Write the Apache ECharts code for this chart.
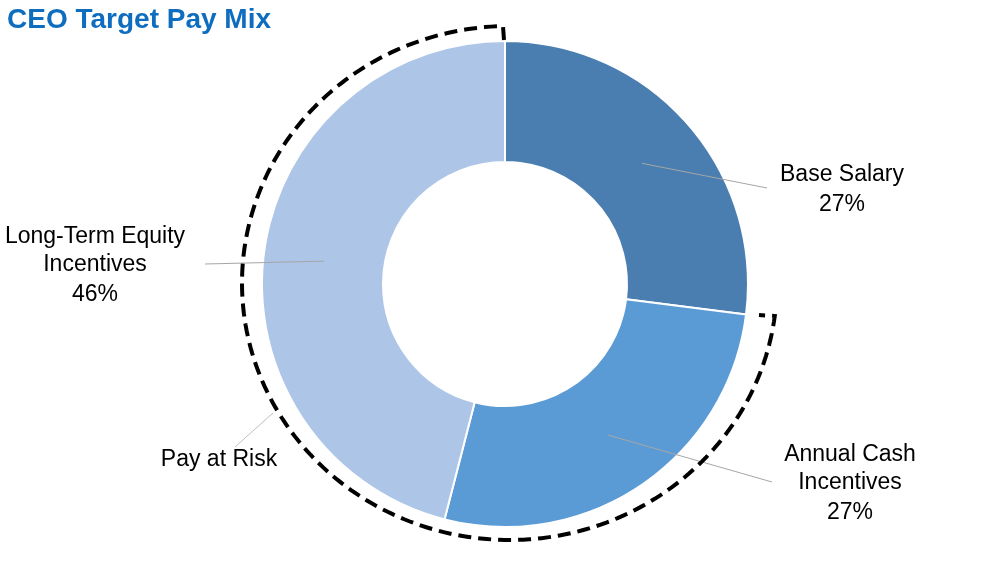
<!DOCTYPE html>
<html>
<head>
<meta charset="utf-8">
<script src="https://cdn.jsdelivr.net/npm/echarts@6/dist/echarts.min.js"></script>
<style>
html,body{margin:0;padding:0;background:#fff;}
#chart{width:999px;height:586px;}
</style>
</head>
<body>
<div id="chart"></div>
<script>
// ---- data ----
const titleText = 'CEO Target Pay Mix';
const categories = ['Base Salary', 'Annual Cash\nIncentives', 'Long-Term Equity\nIncentives'];
const values = [27, 27, 46];
const groupLabel = 'Pay at Risk';

// ---- styles / layout ----
const colors = ['#4a7eb0', '#5b9bd5', '#adc5e6'];
const CX = 505, CY = 284, R_IN = 122, R_OUT = 243;
const labelPos = [[842, 191], [850, 485], [95, 267]];
const labelLineEnd = [[767, 188], [772, 482], [205, 264]];
const FONT = 'Liberation Sans, Arial, sans-serif';
const LABEL_SIZE = 23;

const total = values.reduce((a, b) => a + b, 0);
const midAngles = [];
let acc = 0;
values.forEach(v => {
  midAngles.push(90 - (acc + v / 2) / total * 360);
  acc += v;
});
const rMid = (R_IN + R_OUT) / 2;

// dashed "pay at risk" bracket (ellipse around the donut)
const ex = CX + 4.5, ey = CY - 1, erx = 267.5, ery = 257;
const t0 = Math.acos((503 - ex) / erx) * 180 / Math.PI;
const t1 = 360 + Math.asin(-(316 - ey) / ery) * 180 / Math.PI;
const arcPts = [[CX - 1, CY - 244]];
for (let i = 0; i <= 200; i++) {
  const t = (t0 + (t1 - t0) * i / 200) * Math.PI / 180;
  arcPts.push([ex + erx * Math.cos(t), ey - ery * Math.sin(t)]);
}
arcPts.push([CX + 254, CY + 31]);

const pieData = categories.map((c, i) => ({name: c, value: values[i], itemStyle: {color: colors[i]}}));

const chart = echarts.init(document.getElementById('chart'), null, {renderer: 'canvas'});
chart.setOption({
  animation: false,
  backgroundColor: '#ffffff',
  title: {
    text: titleText,
    left: 2,
    top: 1,
    textStyle: {fontFamily: FONT, fontSize: 28, fontWeight: 'bold', color: '#0f6dbf'}
  },
  graphic: [
    {
      type: 'polyline',
      z: 10,
      shape: {points: arcPts},
      style: {stroke: '#000', lineWidth: 4, lineDash: [13, 7], fill: null}
    },
    {
      type: 'line',
      z: 10,
      shape: {x1: 235, y1: 447, x2: 273, y2: 413},
      style: {stroke: '#bfbfbf', lineWidth: 1}
    },
    {
      type: 'text',
      z: 10,
      x: 219, y: 460,
      style: {text: groupLabel, font: LABEL_SIZE + 'px ' + FONT, fill: '#000', align: 'center', verticalAlign: 'middle'}
    }
  ],
  series: [
    {
      type: 'pie',
      z: 2,
      center: [CX, CY],
      radius: [R_IN, R_OUT],
      startAngle: 90,
      clockwise: true,
      silent: true,
      itemStyle: {borderColor: '#fff', borderWidth: 2},
      label: {show: false},
      labelLine: {show: false},
      data: pieData
    },
    {
      // transparent overlay carrying the labels so leader lines sit above the slices
      type: 'pie',
      z: 5,
      center: [CX, CY],
      radius: [R_IN, R_OUT],
      startAngle: 90,
      clockwise: true,
      silent: true,
      avoidLabelOverlap: false,
      itemStyle: {color: 'rgba(0,0,0,0)', borderWidth: 0},
      label: {
        show: true,
        position: 'outside',
        color: '#000',
        fontFamily: FONT,
        formatter: function (p) {
          const lines = p.name.split('\n').map(s => '{n|' + s + '}');
          return lines.join('\n') + '\n{p|' + p.value + '%}';
        },
        rich: {
          n: {fontFamily: FONT, fontSize: LABEL_SIZE, lineHeight: 28, color: '#000', align: 'center'},
          p: {fontFamily: FONT, fontSize: LABEL_SIZE, lineHeight: 32, color: '#000', align: 'center'}
        }
      },
      labelLine: {show: true, lineStyle: {color: '#a6a6a6', width: 1}},
      labelLayout: function (params) {
        const i = params.dataIndex;
        const a = midAngles[i] * Math.PI / 180;
        const start = [CX + rMid * Math.cos(a), CY - rMid * Math.sin(a)];
        const end = labelLineEnd[i];
        return {
          x: labelPos[i][0],
          y: labelPos[i][1],
          align: 'center',
          verticalAlign: 'middle',
          labelLinePoints: [start, [(start[0] + end[0]) / 2, (start[1] + end[1]) / 2], end]
        };
      },
      data: categories.map((c, i) => ({name: c, value: values[i]}))
    }
  ]
});
</script>
</body>
</html>
